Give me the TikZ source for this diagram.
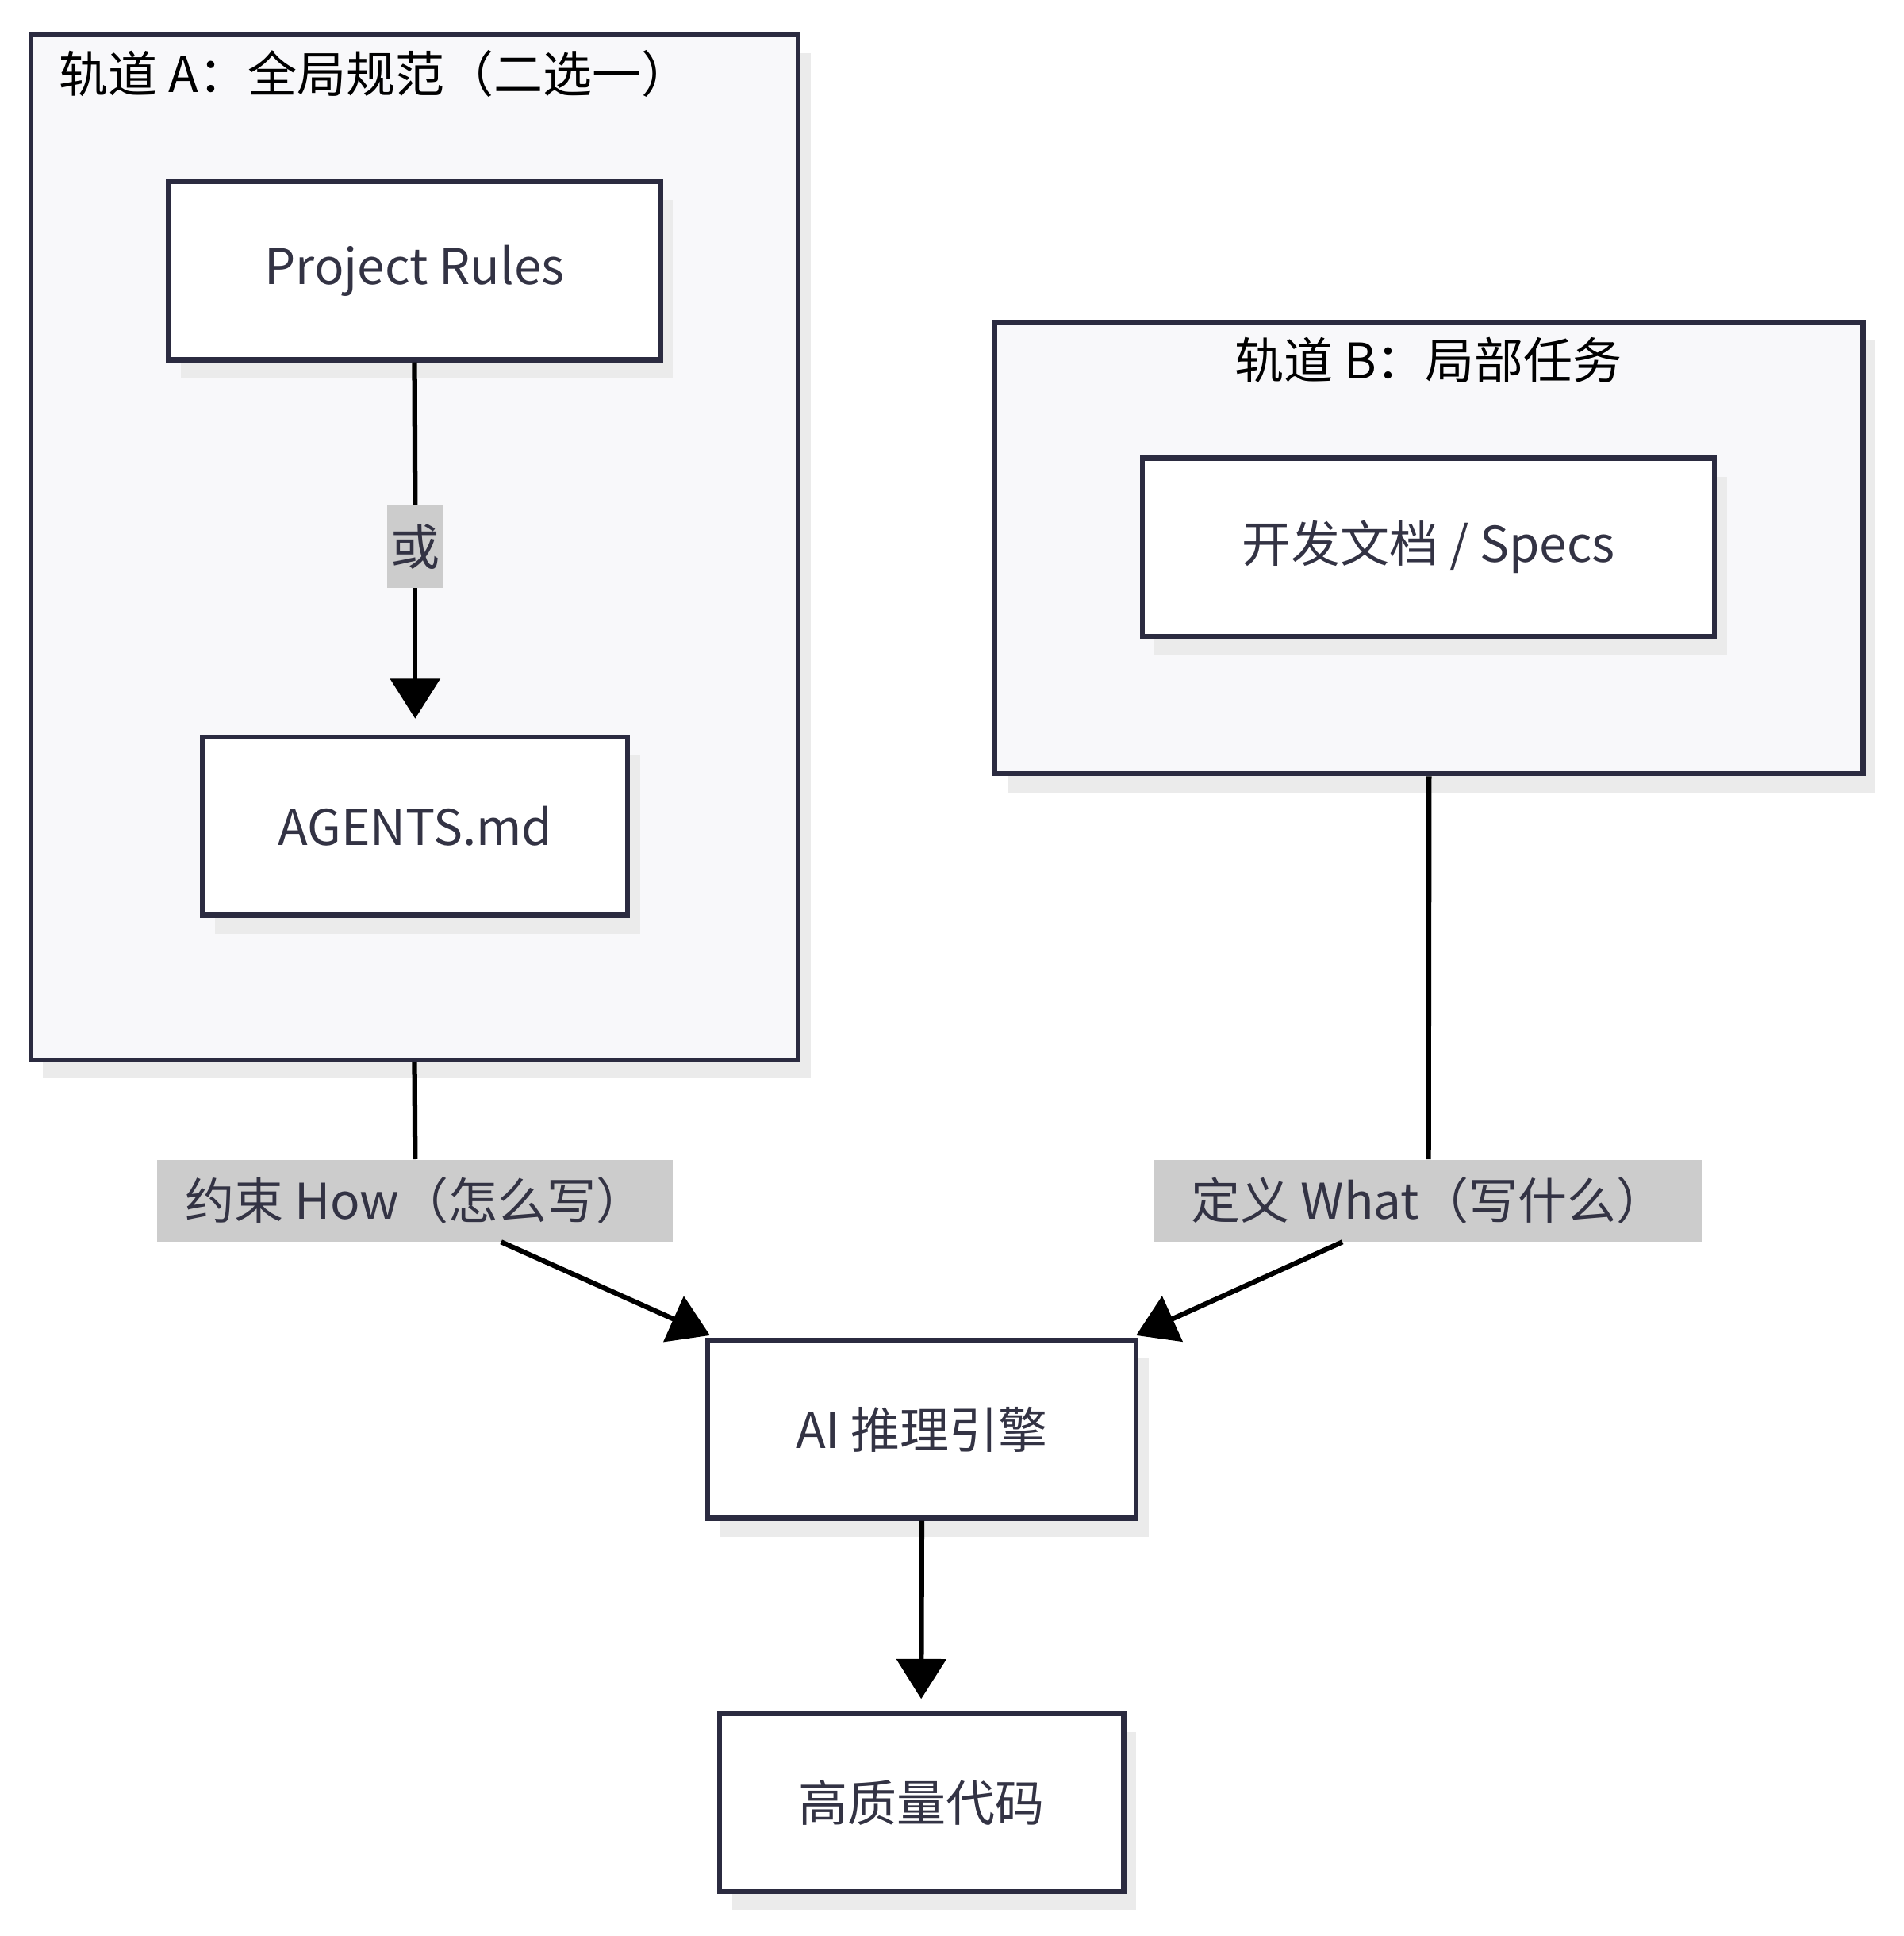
\documentclass[tikz,border=0pt]{standalone}
\usepackage{fontspec}
\setmainfont{Noto Sans CJK SC}
\usetikzlibrary{arrows.meta,shadows}
\definecolor{edge}{HTML}{2B2B40}
\definecolor{txt}{HTML}{333344}
\definecolor{clfill}{HTML}{F8F8FA}
\definecolor{lbl}{HTML}{CCCCCC}
\begin{document}
\begin{tikzpicture}[x=0.02cm,y=-0.02cm,
  sh/.style={drop shadow={shadow xshift=0.2cm,shadow yshift=-0.3cm,fill=black!8,opacity=1}},
  box/.style={draw=edge,line width=2.3pt,fill=white,sh,font=\fontsize{22.8}{27}\selectfont,text=txt,inner sep=0pt},
  cl/.style={draw=edge,line width=2.3pt,fill=clfill,sh,inner sep=0pt},
  ttl/.style={font=\fontsize{22.8}{27}\selectfont,text=black,inner sep=0pt},
  lab/.style={fill=lbl,font=\fontsize{22.8}{27}\selectfont,text=txt,inner sep=2pt},
  ln/.style={line width=2.3pt,black},
  ar/.style={ln,-{Triangle[width=0.8cm,length=0.65cm]}}]
\useasboundingbox (0,0) rectangle (1550,1576);
\node[cl,minimum width=12.5cm,minimum height=16.7cm] (clA) at (337.5,445.5) {};
\node[ttl,anchor=west] (tA) at (48,60) {轨道 A：全局规范（二选一）};
\node[cl,minimum width=14.14cm,minimum height=7.36cm] (clB) at (1163.5,446) {};
\node[ttl] (tB) at (1163,293) {轨道 B：局部任务};
\node[box,minimum width=8.02cm,minimum height=2.9cm] (pr) at (337.5,220.5) {Project Rules};
\node[box,minimum width=6.92cm,minimum height=2.9cm] (ag) at (338,672.5) {AGENTS.md};
\node[box,minimum width=9.32cm,minimum height=2.9cm] (sp) at (1163,445.5) {开发文档 / Specs};
\node[box,minimum width=6.98cm,minimum height=2.9cm] (ai) at (750.5,1163.5) {AI 推理引擎};
\node[box,minimum width=6.58cm,minimum height=2.9cm] (hq) at (750.5,1467.5) {高质量代码};
\node[lab,minimum width=0.9cm,minimum height=1.34cm,inner sep=0pt] (or) at (338,445) {或};
\node[lab,minimum width=8.4cm,minimum height=1.34cm,inner sep=0pt] (lA) at (338,977.5) {约束 How（怎么写）};
\node[lab,minimum width=8.92cm,minimum height=1.34cm,inner sep=0pt] (lB) at (1163,977.5) {定义 What（写什么）};
\coordinate (aIn) at (578,1087);
\coordinate (bIn) at (925,1087);
\coordinate (aOut) at (408,1011);
\coordinate (bOut) at (1093,1011);
\draw[ln] (pr.south) -- (or.north);
\draw[ar] (or.south) -- (338,585);
\draw[ln] (clA.south) -- (lA.north);
\draw[ar] (aOut) -- (aIn);
\draw[ln] (clB.south) -- (lB.north);
\draw[ar] (bOut) -- (bIn);
\draw[ar] (ai.south) -- (750,1383);
\end{tikzpicture}
\end{document}
